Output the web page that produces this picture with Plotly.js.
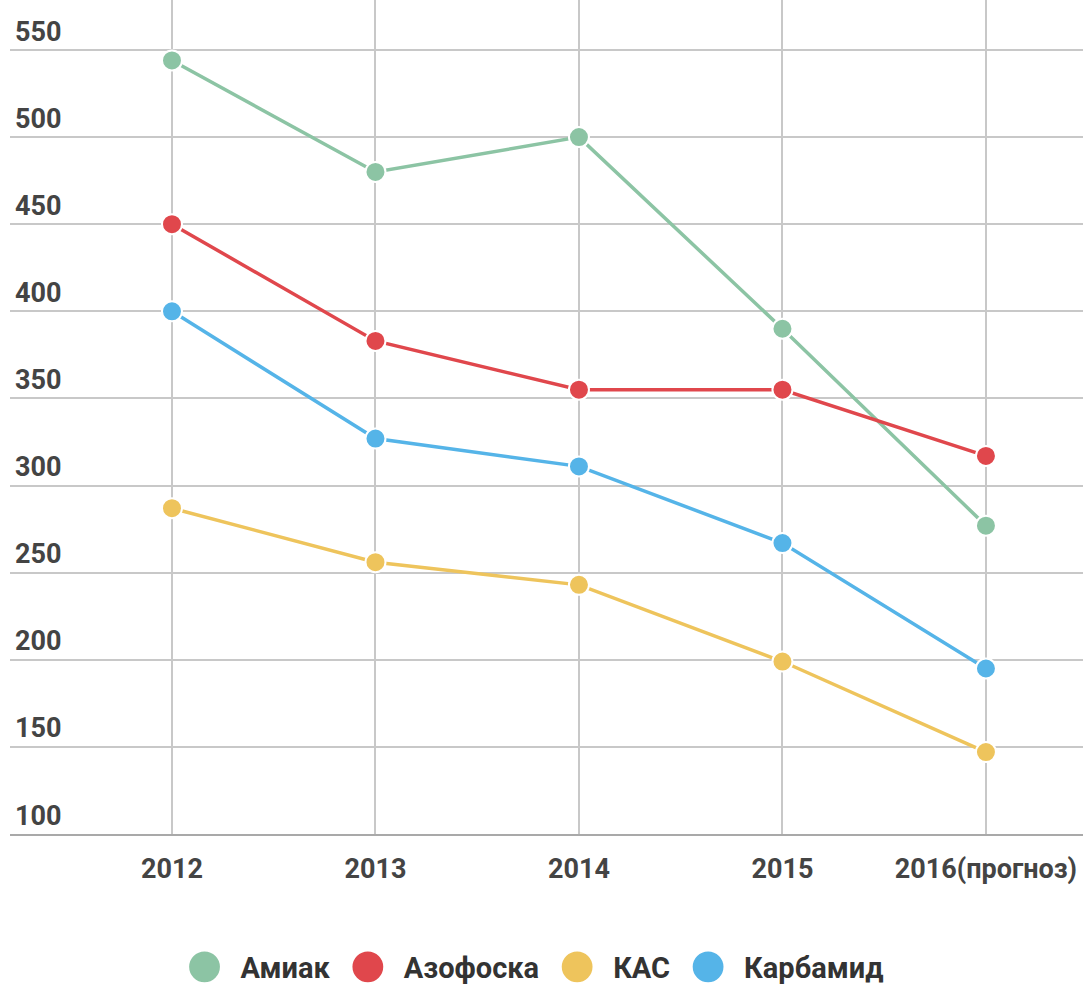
<!DOCTYPE html>
<html><head><meta charset="utf-8">
<script src="https://cdn.plot.ly/plotly-3.0.1.min.js"></script>
<style>html,body{margin:0;padding:0;background:#fff}</style>
</head><body><div id="chart" style="width:1083px;height:987px"></div>
<script>
const years = ['2012', '2013', '2014', '2015', '2016(прогноз)'];
const amiak = [544, 480, 500, 390, 277];
const azofoska = [450, 383, 355, 355, 317];
const kas = [287, 256, 243, 199, 147];
const karbamid = [400, 327, 311, 267, 195];
const seriesNames = ['Амиак', 'Азофоска', 'КАС', 'Карбамид'];
const seriesValues = [amiak, azofoska, kas, karbamid];
const seriesColors = ['#8cc4a4', '#e0474c', '#eec45c', '#55b4e8'];
const yTicks = [100, 150, 200, 250, 300, 350, 400, 450, 500, 550];

const traces = [];
seriesNames.forEach((n, i) => {
  traces.push({
    x: years, y: seriesValues[i], name: n, type: 'scatter', mode: 'lines',
    line: {color: seriesColors[i], width: 3.5}, showlegend: false, hoverinfo: 'skip'
  });
});
seriesNames.forEach((n, i) => {
  traces.push({
    x: years, y: seriesValues[i], name: n, type: 'scatter', mode: 'markers',
    marker: {color: seriesColors[i], size: 20, line: {color: '#ffffff', width: 2}},
    showlegend: true
  });
});

const fam = 'Roboto, "Noto Sans", sans-serif';
const tickFont = {family: fam, size: 27, color: '#444444', weight: 700};

const layout = {
  width: 1083, height: 987,
  margin: {l: 10, r: 0, t: 0, b: 153, autoexpand: false},
  paper_bgcolor: '#ffffff', plot_bgcolor: '#ffffff',
  font: tickFont,
  showlegend: true,
  legend: {orientation: 'h', x: 0.5, xanchor: 'center', y: -0.1595, yanchor: 'middle',
           font: {family: fam, size: 29, color: '#333333', weight: 700},
           traceorder: 'normal', bgcolor: 'rgba(0,0,0,0)'},
  xaxis: {
    type: 'category', range: [-0.796, 4.477],
    showgrid: true, gridcolor: '#c8c8c8', gridwidth: 2,
    showline: true, linecolor: '#a9a9a9', linewidth: 2,
    ticks: '', ticklabelstandoff: 10, zeroline: false,
    tickfont: tickFont
  },
  yaxis: {
    range: [100, 578.7], tickvals: yTicks, ticktext: yTicks.map(String),
    showgrid: true, gridcolor: '#c8c8c8', gridwidth: 2,
    zeroline: false, showline: false, ticks: '',
    ticklabelposition: 'inside top', ticklabelstandoff: 2,
    tickfont: tickFont
  }
};

function parseTranslate(t) {
  const m = /translate\(\s*([-\d.e]+)[ ,]*([-\d.e]*)\s*\)/.exec(t || '');
  return m ? [parseFloat(m[1]), parseFloat(m[2] || 0)] : [0, 0];
}

Plotly.newPlot('chart', traces, layout, {displayModeBar: false, staticPlot: true}).then(gd => {
  const legend = gd.querySelector('g.legend');
  if (!legend) return;
  legend.querySelectorAll('[clip-path]').forEach(el => el.removeAttribute('clip-path'));
  legend.removeAttribute('clip-path');
  const diam = 36, gapText = 18, gapItem = 20;
  const items = Array.from(legend.querySelectorAll('g.traces'));
  let cum = 0;
  const pos = [];
  items.forEach(it => {
    const txt = it.querySelector('text.legendtext');
    const w = txt ? txt.getComputedTextLength() : 0;
    pos.push(cum);
    cum += diam + gapText + w + gapItem;
    it.querySelectorAll('path.scatterpts').forEach(p => {
      p.setAttribute('transform', 'translate(' + (diam / 2) + ',0) scale(2.2)');
    });
    if (txt) txt.setAttribute('x', diam + gapText);
    const toggle = it.querySelector('rect.legendtoggle');
    if (toggle) toggle.setAttribute('width', diam + gapText + w);
  });
  const total = cum - gapItem;
  items.forEach((it, i) => {
    const [, y] = parseTranslate(it.getAttribute('transform'));
    it.setAttribute('transform', 'translate(' + pos[i] + ',' + y + ')');
  });
  legend.querySelectorAll('rect.bg, rect.scrollbox-bg').forEach(r => {
    r.setAttribute('x', -5);
    r.setAttribute('width', total + 10);
  });
  const [, ly] = parseTranslate(legend.getAttribute('transform'));
  legend.setAttribute('transform', 'translate(' + (535 - total / 2) + ',' + ly + ')');
});
</script>
</body></html>
